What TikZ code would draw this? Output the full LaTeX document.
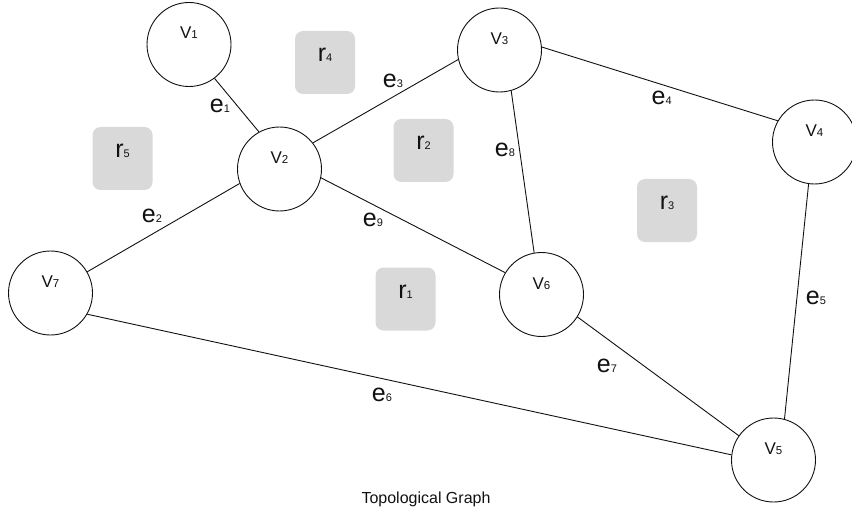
\documentclass[tikz,border=0pt]{standalone}
\usepackage{fontspec}
\setmainfont{Liberation Sans}
\definecolor{regiongray}{HTML}{D9D9D9}
\definecolor{inkc}{HTML}{111111}
\newcommand{\vsubs}[1]{{\fontsize{11.5}{13}\selectfont #1}}
\newcommand{\esubs}[1]{{\fontsize{11}{13}\selectfont #1}}
\begin{document}
\begin{tikzpicture}[x=1pt,y=-1pt,
  vert/.style={circle, draw=inkc, line width=0.9pt, minimum size=84pt, inner sep=0pt,
    text height=0pt, text depth=11pt, text=inkc, font=\fontsize{17}{19}\selectfont},
  region/.style={rectangle, rounded corners=8pt, fill=regiongray, minimum width=60pt,
    minimum height=63pt, inner sep=0pt, text height=0pt, text depth=2pt, text=inkc,
    font=\fontsize{25}{27}\selectfont},
  elabel/.style={anchor=base, inner sep=0pt, text=inkc, font=\fontsize{25}{27}\selectfont},
  edge/.style={draw=inkc, line width=0.9pt}]
\useasboundingbox (0,0) rectangle (852,516);

% regions
\node[region] (r4) at (325,62.5) {r\esubs{4}};
\node[region] (r5) at (122.5,158.5) {r\esubs{5}};
\node[region] (r2) at (423.5,150.5) {r\esubs{2}};
\node[region] (r3) at (667,210.5) {r\esubs{3}};
\node[region] (r1) at (405.5,299) {r\esubs{1}};

% vertices
\node[vert] (v1) at (189,44.5) {V\vsubs{1}};
\node[vert] (v2) at (279.5,169) {V\vsubs{2}};
\node[vert] (v3) at (499.5,50) {V\vsubs{3}};
\node[vert] (v4) at (814.5,142) {V\vsubs{4}};
\node[vert] (v5) at (773.5,460) {V\vsubs{5}};
\node[vert] (v6) at (541.5,294.5) {V\vsubs{6}};
\node[vert] (v7) at (50.5,293) {V\vsubs{7}};

% edges
\draw[edge] (v1.-53) -- (v2.119.6);
\draw[edge] (v2.38.9) -- (v3.193.3);
\draw[edge] (v3.4.5) -- (v4.150.7);
\draw[edge] (v3.-74.4) -- (v6.100);
\draw[edge] (v4.262.4) -- (v5.75.3);
\draw[edge] (v6.-32.9) -- (v5.145.4);
\draw[edge] (v7.-30) -- (v5.173.3);
\draw[edge] (v7.30) -- (v2.200.5);
\draw[edge] (v2.-12.4) -- (v6.149.8);

% edge labels
\node[elabel] (e1) at (220,112.7) {e\esubs{1}};
\node[elabel] (e3) at (393,87.3) {e\esubs{3}};
\node[elabel] (e8) at (505,156.7) {e\esubs{8}};
\node[elabel] (e4) at (661.7,105) {e\esubs{4}};
\node[elabel] (e2) at (152,222.7) {e\esubs{2}};
\node[elabel] (e9) at (373,226) {e\esubs{9}};
\node[elabel] (e5) at (816,304) {e\esubs{5}};
\node[elabel] (e7) at (607,372) {e\esubs{7}};
\node[elabel] (e6) at (382,401) {e\esubs{6}};

% title
\node[anchor=base, inner sep=0pt, text=inkc, font=\fontsize{16}{18}\selectfont] (title) at (426,503) {Topological Graph};
\end{tikzpicture}
\end{document}
